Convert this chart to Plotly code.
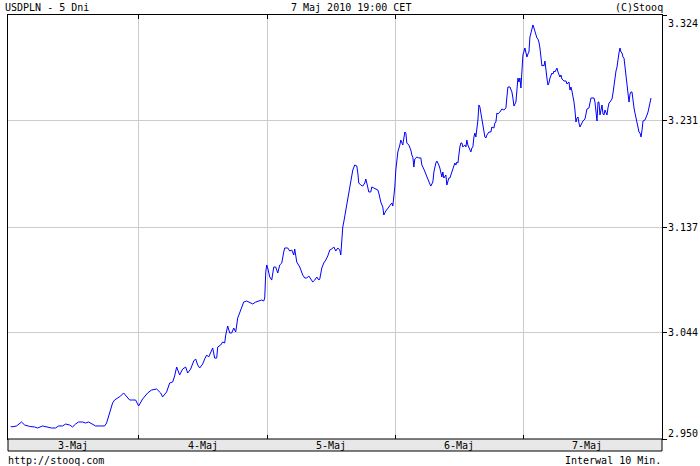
import plotly.graph_objects as go

# ---- data -------------------------------------------------------------
title_left = "USDPLN - 5 Dni"
title_mid = "7 Maj 2010 19:00 CET"
title_right = "(C)Stooq"
footer_left = "http://stooq.com"
footer_right = "Interwal 10 Min."

day_labels = ["3-Maj", "4-Maj", "5-Maj", "6-Maj", "7-Maj"]
day_bounds = [24, 48, 72, 96]          # hours since 3-Maj 00:00
y_ticks = [3.324, 3.231, 3.137, 3.044, 2.950]

# hours since 3-Maj 00:00 (10-minute bars)
hours = [
    0.00, 0.13, 1.07, 2.01, 2.57, 3.51, 4.44, 5.01, 5.94, 6.69, 7.63, 8.38, 8.94, 9.69,
    10.26, 11.01, 11.57, 12.13, 12.69, 13.44, 14.01, 14.57, 15.32, 15.88, 16.63, 17.57,
    17.94, 18.32, 18.69, 19.07, 19.44, 20.01, 20.57, 21.13, 21.69, 22.26, 22.82, 23.38,
    23.94, 24.69, 25.63, 26.38, 27.32, 28.07, 28.44, 29.19, 29.76, 30.32, 30.69, 31.07,
    31.63, 32.19, 32.76, 33.13, 33.69, 34.26, 34.63, 35.01, 35.38, 35.94, 36.32, 36.69,
    37.07, 37.44, 37.82, 38.19, 38.57, 38.76, 39.32, 39.69, 40.07, 40.26, 40.63, 41.01,
    41.38, 41.76, 42.13, 42.51, 42.88, 43.26, 43.63, 44.19, 44.76, 45.32, 45.88, 46.44,
    47.01, 47.38, 47.57, 47.76, 47.94, 48.13, 48.51, 48.88, 49.26, 49.63, 50.01, 50.38,
    50.76, 51.13, 51.32, 51.88, 52.26, 52.63, 53.01, 53.19, 53.57, 54.13, 54.69, 55.07,
    55.44, 55.82, 56.19, 56.57, 56.94, 57.32, 57.69, 57.88, 58.26, 58.63, 59.01, 59.38,
    59.76, 60.13, 60.51, 60.88, 61.26, 61.63, 61.82, 62.01, 62.19, 62.38, 62.76, 63.13,
    63.51, 63.88, 64.07, 64.44, 64.82, 65.01, 65.19, 65.57, 65.94, 66.32, 66.51, 66.69,
    67.07, 67.44, 67.63, 68.01, 68.38, 68.76, 68.94, 69.32, 69.69, 69.88, 70.26, 70.63,
    71.01, 71.38, 71.57, 71.76, 71.94, 72.13, 72.32, 72.51, 72.88, 73.07, 73.44, 73.63,
    73.82, 74.01, 74.19, 74.57, 74.94, 75.13, 75.32, 75.51, 75.69, 76.07, 76.44, 76.82,
    77.01, 77.38, 77.76, 78.13, 78.51, 78.69, 79.07, 79.26, 79.63, 79.82, 80.19, 80.38,
    80.76, 80.94, 81.13, 81.51, 81.69, 82.07, 82.26, 82.44, 82.63, 83.01, 83.19, 83.38,
    83.57, 83.76, 83.94, 84.13, 84.32, 84.51, 84.69, 85.07, 85.26, 85.44, 85.63, 86.01,
    86.19, 86.38, 86.57, 86.76, 86.94, 87.13, 87.32, 87.51, 87.69, 87.88, 88.07, 88.26,
    88.44, 88.63, 88.82, 89.01, 89.19, 89.57, 89.94, 90.13, 90.51, 90.69, 90.88, 91.07,
    91.26, 91.63, 92.01, 92.38, 92.76, 92.94, 93.13, 93.51, 93.88, 94.07, 94.26, 94.63,
    94.82, 95.01, 95.19, 95.38, 95.57, 95.76, 95.94, 96.32, 96.51, 96.69, 96.88, 97.07,
    97.26, 97.44, 97.82, 98.01, 98.19, 98.38, 98.57, 98.76, 98.94, 99.13, 99.32, 99.51,
    99.69, 99.88, 100.07, 100.26, 100.44, 100.63, 100.82, 101.01, 101.38, 101.57, 101.76,
    101.94, 102.13, 102.32, 102.51, 102.88, 103.07, 103.26, 103.63, 104.01, 104.19,
    104.57, 104.76, 104.94, 105.13, 105.32, 105.51, 105.69, 105.88, 106.07, 106.26,
    106.44, 106.63, 106.82, 107.01, 107.19, 107.57, 107.76, 107.94, 108.32, 108.51,
    108.69, 108.88, 109.26, 109.44, 109.63, 109.82, 110.01, 110.19, 110.38, 110.57,
    110.76, 110.94, 111.13, 111.32, 111.51, 111.69, 111.88, 112.07, 112.26, 112.44,
    112.63, 112.82, 113.01, 113.38, 113.57, 113.76, 113.94, 114.13, 114.32, 114.51,
    114.69, 114.88, 115.07, 115.26, 115.44, 115.63, 115.82, 116.01, 116.19, 116.38,
    116.57, 116.76, 116.94, 117.13, 117.32, 117.51, 117.69, 117.88, 118.07, 118.26,
    118.44, 118.82, 119.01, 119.19, 119.38, 119.57, 119.76, 119.94,
]

usdpln = [
    2.9615, 2.9606, 2.9615, 2.9650, 2.9624, 2.9611, 2.9606, 2.9597, 2.9615, 2.9606, 2.9597, 2.9597, 2.9615, 2.9615,
    2.9632, 2.9624, 2.9606, 2.9632, 2.9650, 2.9650, 2.9641, 2.9650, 2.9632, 2.9615, 2.9615, 2.9615,
    2.9641, 2.9694, 2.9756, 2.9818, 2.9844, 2.9862, 2.9879, 2.9906, 2.9879, 2.9844, 2.9844, 2.9844,
    2.9791, 2.9853, 2.9906, 2.9932, 2.9941, 2.9906, 2.9871, 2.9915, 2.9994, 3.0003, 3.0056, 3.0135,
    3.0065, 3.0117, 3.0135, 3.0082, 3.0117, 3.0188, 3.0206, 3.0153, 3.0126, 3.0161, 3.0206, 3.0241,
    3.0223, 3.0267, 3.0303, 3.0214, 3.0214, 3.0311, 3.0329, 3.0356, 3.0347, 3.0417, 3.0497, 3.0435,
    3.0435, 3.0479, 3.0444, 3.0567, 3.0611, 3.0664, 3.0708, 3.0717, 3.0700, 3.0691, 3.0708, 3.0717,
    3.0726, 3.0717, 3.0744, 3.0973, 3.1035, 3.1008, 3.0929, 3.0902, 3.1017, 3.1017, 3.0964, 3.1035,
    3.1052, 3.1149, 3.1185, 3.1185, 3.1158, 3.1167, 3.1123, 3.1176, 3.1061, 3.1017, 3.0946, 3.0920,
    3.0920, 3.0938, 3.0911, 3.0885, 3.0902, 3.0929, 3.0902, 3.0911, 3.1008, 3.1052, 3.1079, 3.1114,
    3.1167, 3.1176, 3.1194, 3.1158, 3.1185, 3.1167, 3.1123, 3.1299, 3.1370, 3.1414, 3.1520, 3.1608,
    3.1714, 3.1811, 3.1873, 3.1917, 3.1908, 3.1846, 3.1758, 3.1740, 3.1731, 3.1758, 3.1793, 3.1758,
    3.1679, 3.1679, 3.1723, 3.1714, 3.1705, 3.1696, 3.1670, 3.1590, 3.1546, 3.1476, 3.1511, 3.1537,
    3.1555, 3.1582, 3.1555, 3.1626, 3.1723, 3.1873, 3.1979, 3.2032, 3.2093, 3.2137, 3.2093, 3.2164,
    3.2208, 3.2199, 3.2111, 3.2093, 3.2049, 3.2005, 3.1987, 3.1899, 3.1970, 3.1987, 3.1979, 3.1979,
    3.1917, 3.1881, 3.1829, 3.1793, 3.1749, 3.1731, 3.1767, 3.1855, 3.1934, 3.1952, 3.1917, 3.1890,
    3.1811, 3.1855, 3.1802, 3.1829, 3.1740, 3.1802, 3.1802, 3.1829, 3.1855, 3.1899, 3.1934, 3.1917,
    3.1943, 3.1934, 3.2014, 3.2076, 3.2111, 3.2111, 3.2076, 3.2093, 3.2076, 3.2137, 3.2093, 3.2049,
    3.2032, 3.2067, 3.2076, 3.2164, 3.2199, 3.2164, 3.2225, 3.2314, 3.2446, 3.2429, 3.2375, 3.2314,
    3.2270, 3.2199, 3.2164, 3.2155, 3.2181, 3.2208, 3.2208, 3.2252, 3.2243, 3.2287, 3.2296, 3.2375,
    3.2367, 3.2384, 3.2411, 3.2402, 3.2420, 3.2516, 3.2605, 3.2605, 3.2561, 3.2508, 3.2437, 3.2472,
    3.2605, 3.2684, 3.2649, 3.2684, 3.2596, 3.2781, 3.2887, 3.2949, 3.2913, 3.2869, 3.2896, 3.2913,
    3.3046, 3.3090, 3.3152, 3.3125, 3.3090, 3.3063, 3.3037, 3.3028, 3.3002, 3.2949, 3.2860, 3.2790,
    3.2799, 3.2790, 3.2834, 3.2728, 3.2684, 3.2622, 3.2640, 3.2684, 3.2728, 3.2719, 3.2746,
    3.2737, 3.2755, 3.2772, 3.2737, 3.2693, 3.2711, 3.2675, 3.2658, 3.2658, 3.2631,
    3.2649, 3.2578, 3.2605, 3.2569, 3.2534, 3.2472, 3.2402, 3.2296, 3.2331, 3.2340,
    3.2287, 3.2252, 3.2270, 3.2287, 3.2305, 3.2322, 3.2358, 3.2411, 3.2420, 3.2464,
    3.2508, 3.2508, 3.2508, 3.2472, 3.2358, 3.2305, 3.2472, 3.2472, 3.2358, 3.2402,
    3.2446, 3.2367, 3.2358, 3.2402, 3.2367, 3.2358, 3.2420, 3.2464, 3.2472, 3.2490,
    3.2499, 3.2552, 3.2640, 3.2746, 3.2781, 3.2860, 3.2905, 3.2949, 3.2913, 3.2905,
    3.2869, 3.2860, 3.2781, 3.2728, 3.2649, 3.2596, 3.2472, 3.2543, 3.2561, 3.2561,
    3.2472, 3.2420, 3.2375, 3.2331, 3.2296, 3.2252, 3.2208, 3.2199, 3.2164, 3.2225,
    3.2305, 3.2314, 3.2331, 3.2358, 3.2384, 3.2420, 3.2472, 3.2508,
]

# ---- figure -----------------------------------------------------------
W, H = 700, 466
M_L, M_R, M_T, M_B = 8, 38, 15, 27
plot_h = H - M_T - M_B
FONT = "DejaVu Sans Mono"

fig = go.Figure()
fig.add_trace(go.Scatter(
    x=hours, y=usdpln, mode="lines",
    line=dict(color="#0000ff", width=1, shape="linear"),
    hoverinfo="skip", showlegend=False,
))

fig.update_layout(
    width=W, height=H,
    margin=dict(l=M_L, r=M_R, t=M_T, b=M_B, pad=0),
    paper_bgcolor="white", plot_bgcolor="white",
    font=dict(family=FONT, size=10, color="black"),
    showlegend=False,
)

fig.update_xaxes(
    range=[-0.53, 122.0], fixedrange=True,
    tickvals=day_bounds, showticklabels=False,
    ticks="inside", ticklen=4, tickcolor="black", tickwidth=1,
    showgrid=True, gridcolor="#cccccc", gridwidth=1,
    showline=True, linecolor="black", linewidth=1, mirror="ticks",
    zeroline=False,
)
fig.update_yaxes(
    range=[y_ticks[-1], y_ticks[0]], side="right", fixedrange=True,
    tickvals=y_ticks, showticklabels=False,
    ticks="outside", ticklen=4, tickcolor="black", tickwidth=1,
    showgrid=True, gridcolor="#cccccc", gridwidth=1,
    showline=True, linecolor="black", linewidth=1, mirror=True,
    zeroline=False,
)

# band under the plot holding the day labels
band_h = 12 / plot_h
fig.add_shape(type="rect", xref="paper", yref="paper",
              x0=0, x1=1, y0=-band_h, y1=0,
              fillcolor="#e8e8e8", line=dict(color="black", width=1), layer="above")

annotations = []
for i, lab in enumerate(day_labels):
    xc = i * 24 + 12
    if i == 0:
        xc = (-0.53 + 24) / 2
    annotations.append(dict(x=xc, xref="x", y=-band_h / 2, yref="paper",
                            text=lab, showarrow=False, xanchor="center", yanchor="middle",
                            font=dict(family=FONT, size=10, color="black")))

for i, v in enumerate(y_ticks):
    shift = -8 if i == 0 else (6 if i == len(y_ticks) - 1 else 0)
    annotations.append(dict(x=1, xref="paper", xshift=4, y=v, yref="y", yshift=shift,
                            text=f"{v:.3f}", showarrow=False, xanchor="left", yanchor="middle",
                            font=dict(family=FONT, size=10, color="black")))

annotations += [
    dict(x=0, xref="paper", xshift=-5, y=1, yref="paper", yshift=8, text=title_left,
         showarrow=False, xanchor="left", yanchor="middle"),
    dict(x=0.524, xref="paper", y=1, yref="paper", yshift=8, text=title_mid,
         showarrow=False, xanchor="center", yanchor="middle"),
    dict(x=1, xref="paper", xshift=3, y=1, yref="paper", yshift=8, text=title_right,
         showarrow=False, xanchor="right", yanchor="middle"),
    dict(x=0, xref="paper", xshift=-2, y=0, yref="paper", yshift=-21, text=footer_left,
         showarrow=False, xanchor="left", yanchor="middle"),
    dict(x=1, xref="paper", xshift=1, y=0, yref="paper", yshift=-21, text=footer_right,
         showarrow=False, xanchor="right", yanchor="middle"),
]
fig.update_layout(annotations=annotations)

fig.write_html(
    "out.html",
    config={"displayModeBar": False, "staticPlot": True},
    post_script="document.body.style.margin='0';document.body.style.overflow='hidden';",
)
